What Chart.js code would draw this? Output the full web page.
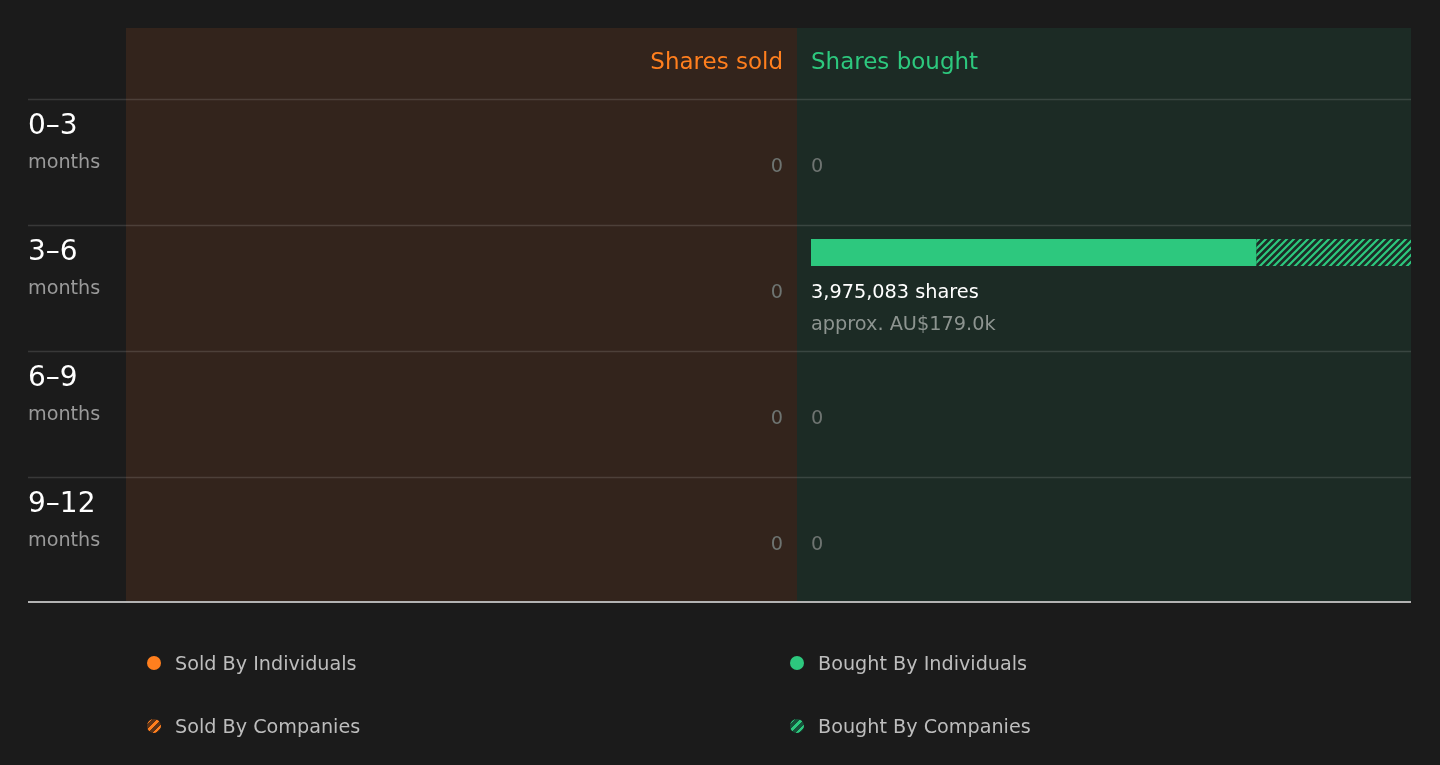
<!DOCTYPE html>
<html>
<head>
<meta charset="utf-8">
<title>Insider trading volume</title>
<script src="https://cdn.jsdelivr.net/npm/chart.js@4.4.1/dist/chart.umd.min.js"></script>
<style>
  html, body { margin: 0; background: #1b1b1b; }
  #wrap { position: relative; width: 1440px; height: 765px; }
  #legend { font: 19.2px 'DejaVu Sans', sans-serif; color: #bdbdbd; }
  .item { position: absolute; height: 24px; display: flex; align-items: center; white-space: nowrap; }
  .dot { width: 14px; height: 14px; border-radius: 50%; margin-right: 14px; flex: none; }
</style>
</head>
<body>
<div id="wrap">
  <canvas id="myChart" width="1440" height="765"></canvas>
  <div id="legend"></div>
</div>
<script>
// data
const categories = ['0–3', '3–6', '6–9', '9–12'];
const periodUnit = 'months';
const soldIndividuals = [0, 0, 0, 0];
const soldCompanies = [0, 0, 0, 0];
const boughtIndividuals = [0, 2950000, 0, 0];
const boughtCompanies = [0, 1025083, 0, 0];
const soldValueAUD = [0, 0, 0, 0];
const boughtValueAUD = [0, 179000, 0, 0];

const ORANGE = '#ff7f1e';
const GREEN = '#2dc87e';
const FONT = "'DejaVu Sans', sans-serif";
const BAR_THICKNESS = 27;
const BAR_TOP_GAP = 14;
const LABEL_X = 28;
const PANEL_TOP = 28;

function hatch(color) {
    const s = 7;
    const c = document.createElement('canvas');
    c.width = s;
    c.height = s;
    const g = c.getContext('2d');
    g.strokeStyle = color;
    g.lineWidth = 2.2;
    g.beginPath();
    g.moveTo(0, s); g.lineTo(s, 0);
    g.moveTo(-2, 2); g.lineTo(2, -2);
    g.moveTo(s - 2, s + 2); g.lineTo(s + 2, s - 2);
    g.stroke();
    return g.createPattern(c, 'repeat');
}

const sum = (a, b) => a.map((v, i) => v + b[i]);
const soldTotals = sum(soldIndividuals, soldCompanies);
const boughtTotals = sum(boughtIndividuals, boughtCompanies);
const maxTotal = Math.max(...soldTotals, ...boughtTotals);

function rowTop(y, i) {
    return y.getPixelForValue(i) - BAR_THICKNESS / 2 - BAR_TOP_GAP;
}

// panels, row lines and all the text around the bars
const tablePlugin = {
    id: 'table',
    beforeDatasetsDraw(chart) {
        const {ctx, scales: {xSold, xBought, y}} = chart;
        const band = y.getPixelForValue(1) - y.getPixelForValue(0);
        const split = (xSold.right + xBought.left) / 2;
        const bottom = rowTop(y, categories.length - 1) + band;
        ctx.save();
        ctx.fillStyle = '#33241c';
        ctx.fillRect(xSold.left, PANEL_TOP, split - xSold.left, bottom - PANEL_TOP);
        ctx.fillStyle = '#1c2b25';
        ctx.fillRect(split, PANEL_TOP, xBought.right - split, bottom - PANEL_TOP);
        ctx.strokeStyle = 'rgba(255,255,255,0.13)';
        ctx.lineWidth = 1.5;
        categories.forEach((c, i) => {
            const t = Math.round(rowTop(y, i)) + 0.5;
            ctx.beginPath();
            ctx.moveTo(LABEL_X, t);
            ctx.lineTo(xBought.right, t);
            ctx.stroke();
        });
        ctx.strokeStyle = '#b3b3b3';
        ctx.lineWidth = 2;
        ctx.beginPath();
        ctx.moveTo(LABEL_X, bottom - 1);
        ctx.lineTo(xBought.right, bottom - 1);
        ctx.stroke();
        ctx.restore();
    },
    afterDraw(chart) {
        const {ctx, scales: {xSold, xBought, y}} = chart;
        ctx.save();
        ctx.textBaseline = 'alphabetic';
        ctx.font = '23px ' + FONT;
        ctx.fillStyle = ORANGE;
        ctx.textAlign = 'right';
        ctx.fillText('Shares sold', xSold.right, 69);
        ctx.fillStyle = GREEN;
        ctx.textAlign = 'left';
        ctx.fillText('Shares bought', xBought.left, 69);

        categories.forEach((c, i) => {
            const top = rowTop(y, i);
            ctx.textAlign = 'left';
            ctx.font = '28px ' + FONT;
            ctx.fillStyle = '#ffffff';
            ctx.fillText(c, LABEL_X, top + 34.5);
            ctx.font = '19.2px ' + FONT;
            ctx.fillStyle = '#9a9a9a';
            ctx.fillText(periodUnit, LABEL_X, top + 69);

            [[soldTotals[i], soldValueAUD[i], xSold.right, 'right'],
             [boughtTotals[i], boughtValueAUD[i], xBought.left, 'left']].forEach(([total, value, x, align]) => {
                ctx.textAlign = align;
                ctx.font = '19.3px ' + FONT;
                if (total === 0) {
                    ctx.fillStyle = '#6e7471';
                    ctx.fillText('0', x, top + 73);
                } else {
                    ctx.fillStyle = '#ffffff';
                    ctx.fillText(total.toLocaleString('en-US') + ' shares', x, top + 73);
                    ctx.fillStyle = '#8d9490';
                    ctx.fillText('approx. AU$' + (value / 1000).toFixed(1) + 'k', x, top + 105);
                }
            });
        });
        ctx.restore();
    }
};

const ctx = document.getElementById('myChart').getContext('2d');
const chart = new Chart(ctx, {
    type: 'bar',
    data: {
        labels: categories,
        datasets: [
            {label: 'Sold By Individuals', data: soldIndividuals, xAxisID: 'xSold', backgroundColor: ORANGE, stack: 'row', hatched: false},
            {label: 'Sold By Companies', data: soldCompanies, xAxisID: 'xSold', backgroundColor: hatch(ORANGE), stack: 'row', hatched: true},
            {label: 'Bought By Individuals', data: boughtIndividuals, xAxisID: 'xBought', backgroundColor: GREEN, stack: 'row', hatched: false},
            {label: 'Bought By Companies', data: boughtCompanies, xAxisID: 'xBought', backgroundColor: hatch(GREEN), stack: 'row', hatched: true}
        ]
    },
    options: {
        indexAxis: 'y',
        responsive: false,
        animation: false,
        barThickness: BAR_THICKNESS,
        elements: {bar: {borderWidth: 0, inflateAmount: 0}},
        layout: {
            autoPadding: false,
            padding: {left: 126, right: 29, top: 63.5, bottom: 197.5}
        },
        scales: {
            y: {type: 'category', display: false, stacked: true},
            xSold: {type: 'linear', display: false, reverse: true, min: 0, max: maxTotal, stacked: true, stack: 'cols', stackWeight: 657},
            xGap: {type: 'linear', display: false, stack: 'cols', stackWeight: 28},
            xBought: {type: 'linear', display: false, min: 0, max: maxTotal, stacked: true, stack: 'cols', stackWeight: 600}
        },
        plugins: {
            legend: {display: false},
            tooltip: {enabled: false}
        }
    },
    plugins: [tablePlugin]
});

// legend in two columns under the table
const legendPos = [[147, 651], [147, 714], [790, 651], [790, 714]];
const darkTint = {[ORANGE]: '#5a3318', [GREEN]: '#17523a'};
const legend = document.getElementById('legend');
chart.data.datasets.forEach((ds, i) => {
    const color = ds.hatched ? chart.data.datasets[i - 1].backgroundColor : ds.backgroundColor;
    const item = document.createElement('div');
    item.className = 'item';
    item.style.left = legendPos[i][0] + 'px';
    item.style.top = legendPos[i][1] + 'px';
    const dot = document.createElement('span');
    dot.className = 'dot';
    dot.style.background = ds.hatched
        ? 'repeating-linear-gradient(135deg, ' + darkTint[color] + ' 0 1.5px, ' + color + ' 1.5px 4px, ' + darkTint[color] + ' 4px 6px)'
        : color;
    item.appendChild(dot);
    item.appendChild(document.createTextNode(ds.label));
    legend.appendChild(item);
});
</script>
</body>
</html>
